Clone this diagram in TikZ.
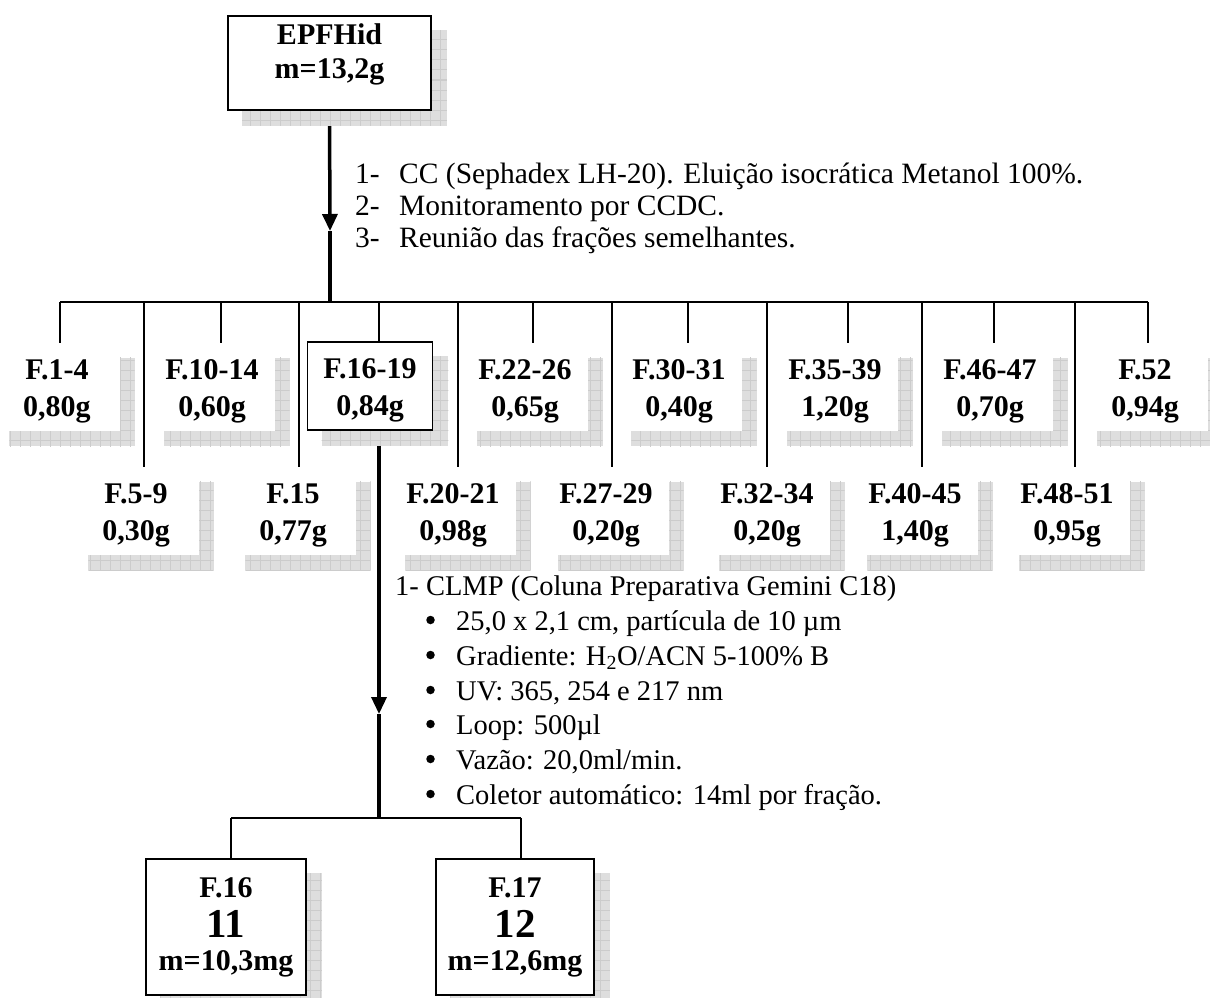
\documentclass[tikz,border=0pt]{standalone}
\usepackage{fontspec}
\setmainfont{Liberation Serif}
\usetikzlibrary{calc,arrows.meta}
\pgfdeclarelayer{wires}
\pgfdeclarelayer{shade}
\pgfsetlayers{wires,shade,main}

\definecolor{shadefill}{RGB}{222,222,222}
\definecolor{shadegrid}{RGB}{204,204,204}

% grey gridded drop shadow, offset down and to the right of a node
\newcommand\gridshade[1]{%
  \begin{pgfonlayer}{shade}
    \fill[shadefill] ($(#1.north west)+(15,15)$) rectangle ($(#1.south east)+(15,15)$);
    \begin{scope}
      \clip ($(#1.north west)+(15,15)$) rectangle ($(#1.south east)+(15,15)$);
      \draw[shadegrid, line width=1pt, step=10pt]
        ($(#1.north west)+(-5,-5)$) grid ($(#1.south east)+(35,35)$);
    \end{scope}
  \end{pgfonlayer}}

% centred stack of lines, lifted by #1 inside its node
\newcommand\stack[2]{\raisebox{#1}[\height][\depth]{\begin{tabular}{@{}c@{}}#2\end{tabular}}}

\tikzset{
  frac/.style={fill=white, inner sep=0pt, minimum width=125, minimum height=88,
    font=\fontsize{30}{37}\selectfont\bfseries},
  fracbox/.style={frac, draw, line width=1.6pt},
  txt/.style={inner sep=0pt, anchor=base west, font=\fontsize{28.5}{34}\selectfont},
  dot/.style={circle, fill, inner sep=0pt, minimum size=8.5pt},
  wire/.style={line width=1.8pt},
  heavy/.style={line width=3.5pt},
  tip/.style={-{Triangle[width=15pt,length=17pt]}}
}

\begin{document}
\begin{tikzpicture}[x=1pt,y=-1pt]
\useasboundingbox (0,0) rectangle (1210,998);

% crude extract
\node[fracbox, minimum width=203, minimum height=94, font=\fontsize{30}{34}\selectfont\bfseries]
  (ext) at (329.5,63) {\stack{8pt}{EPFHid\\m=13,2g}};
\gridshade{ext}

% fractions, upper row
\node[frac] (f1)  at (57,387)   {\stack{-4pt}{F.1-4\\0,80g}};
\node[frac] (f10) at (212,387)  {\stack{-4pt}{F.10-14\\0,60g}};
\node[fracbox] (f16) at (370,386) {\stack{-4pt}{F.16-19\\0,84g}};
\node[frac] (f22) at (525,387)  {\stack{-4pt}{F.22-26\\0,65g}};
\node[frac] (f30) at (679,387)  {\stack{-4pt}{F.30-31\\0,40g}};
\node[frac] (f35) at (835,387)  {\stack{-4pt}{F.35-39\\1,20g}};
\node[frac] (f46) at (990,387)  {\stack{-4pt}{F.46-47\\0,70g}};
\node[frac] (f52) at (1145,387) {\stack{-4pt}{F.52\\0,94g}};
% fractions, lower row
\node[frac] (f5)  at (136,511)  {\stack{-4pt}{F.5-9\\0,30g}};
\node[frac] (f15) at (293,511)  {\stack{-4pt}{F.15\\0,77g}};
\node[frac] (f20) at (453,511)  {\stack{-4pt}{F.20-21\\0,98g}};
\node[frac] (f27) at (606,511)  {\stack{-4pt}{F.27-29\\0,20g}};
\node[frac] (f32) at (767,511)  {\stack{-4pt}{F.32-34\\0,20g}};
\node[frac] (f40) at (915,511)  {\stack{-4pt}{F.40-45\\1,40g}};
\node[frac] (f48) at (1067,511) {\stack{-4pt}{F.48-51\\0,95g}};

\foreach \f in {f1,f10,f16,f22,f30,f35,f46,f52,f5,f15,f20,f27,f32,f40,f48}{\gridshade{\f}}

% isolated compounds
\node[fracbox, minimum width=160, minimum height=136, font=\fontsize{30}{34}\selectfont\bfseries]
  (c11) at (226,927) {\stack{0pt}{F.16\\[3pt]{\fontsize{41}{41}\selectfont 11}\\[-1pt]m=10,3mg}};
\node[fracbox, minimum width=158, minimum height=136, font=\fontsize{30}{34}\selectfont\bfseries]
  (c12) at (515,927) {\stack{0pt}{F.17\\[3pt]{\fontsize{41}{41}\selectfont 12}\\[-1pt]m=12,6mg}};
\gridshade{c11}
\gridshade{c12}

% procedure notes
\begin{scope}[txt/.append style={font=\fontsize{29.5}{34}\selectfont}]
\node[txt] (n1a) at (355,183) {1-};
\node[txt] (n1b) at (399,183) {CC (Sephadex LH-20). Eluição isocrática Metanol 100\%.};
\node[txt] (n2a) at (355,215) {2-};
\node[txt] (n2b) at (399,215) {Monitoramento por CCDC.};
\node[txt] (n3a) at (355,247) {3-};
\node[txt] (n3b) at (399,247) {Reunião das frações semelhantes.};
\end{scope}

\node[txt] (m0) at (395,595) {1- CLMP (Coluna Preparativa Gemini C18)};
\foreach \yy/\t [count=\i] in {
  630/{25,0 x 2,1 cm, partícula de 10 µm},
  665/{Gradiente: H\textsubscript{2}O/ACN 5-100\% B},
  700/{UV: 365, 254 e 217 nm},
  734/{Loop: 500µl},
  769/{Vazão: 20,0ml/min.},
  804/{Coletor automático: 14ml por fração.}}{
  \node[dot] (d\i) at (430.5,\yy-10) {};
  \node[txt] (m\i) at (456,\yy) {\t};
}

% connectors
\coordinate (busW) at (60,302);
\coordinate (busE) at (1148,302);
\coordinate (hub1) at (330,302);
\coordinate (tip1) at (330,231);
\coordinate (hub2) at (379,818);
\coordinate (tip2) at (379,714);
\coordinate (busW2) at (231,818);
\coordinate (busE2) at (521,818);

\begin{pgfonlayer}{wires}
  \draw[heavy, tip] (ext.south) -- (tip1);
  \draw[heavy] (tip1) -- (hub1);
  \draw[wire] (busW) -- (busE);
  \foreach \f/\x in {f1/60,f10/221,f16/379,f22/533,f30/688,f35/848,f46/994,f52/1148,
                     f5/144,f15/299,f20/458,f27/612,f32/767,f40/922,f48/1075}{
    \draw[wire] (\x,302) -- (\x,302 |- \f.north);
  }
  \draw[heavy, tip] (f16.south -| hub2) -- (tip2);
  \draw[heavy] (tip2) -- (hub2);
  \draw[wire] (busW2) -- (busE2);
  \draw[wire] (busW2) -- (busW2 |- c11.north);
  \draw[wire] (busE2) -- (busE2 |- c12.north);
\end{pgfonlayer}
\end{tikzpicture}
\end{document}
